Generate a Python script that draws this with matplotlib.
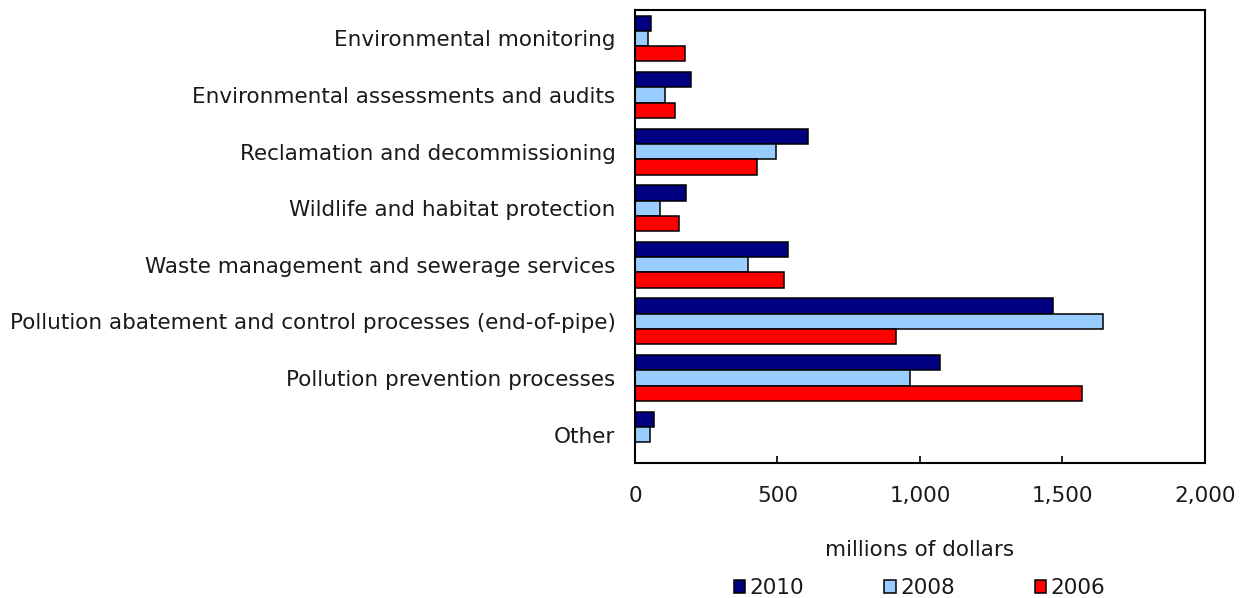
import matplotlib
matplotlib.use("Agg")
import matplotlib.pyplot as plt
import numpy as np

categories = [
    "Environmental monitoring",
    "Environmental assessments and audits",
    "Reclamation and decommissioning",
    "Wildlife and habitat protection",
    "Waste management and sewerage services",
    "Pollution abatement and control processes (end-of-pipe)",
    "Pollution prevention processes",
    "Other",
]
series_names = ["2010", "2008", "2006"]
v2010 = [55, 198, 606, 180, 537, 1465, 1071, 65]
v2008 = [44, 105, 494, 89, 395, 1641, 966, 51]
v2006 = [175, 142, 427, 156, 524, 917, 1568, 0]
colors = ["#000080", "#99CCFF", "#FF0000"]
xticks = [0, 500, 1000, 1500, 2000]
xticklabels = ["0", "500", "1,000", "1,500", "2,000"]

plt.rcParams['font.family'] = ['DejaVu Sans']
FS = 15.5
fig = plt.figure(figsize=(12.51, 5.98), dpi=100)
ax = fig.add_axes([0.5076, 0.226, 0.4556, 0.757])

y = np.arange(len(categories))
h = 0.27
for i, (vals, name, c) in enumerate(zip([v2010, v2008, v2006], series_names, colors)):
    ax.barh(y + (i - 1) * h, vals, height=h, color=c, edgecolor="black",
            linewidth=1.1, label=name)

ax.set_ylim(len(categories) - 0.5, -0.5)
ax.set_xlim(0, 2000)
ax.set_yticks(y)
ax.set_yticklabels(categories, fontsize=FS, color="#1a1a1a")
ax.set_xticks(xticks)
ax.set_xticklabels(xticklabels, fontsize=FS, color="#1a1a1a")
ax.tick_params(axis="y", length=0, pad=14)
ax.tick_params(axis="x", direction="in", length=5, width=1.2, pad=17)
for s in ax.spines.values():
    s.set_linewidth(1.5)
ax.set_xlabel("millions of dollars", fontsize=FS, labelpad=24, color="#1a1a1a")

handles, labels = ax.get_legend_handles_labels()
leg = fig.legend(handles, labels, loc="lower center", bbox_to_anchor=(0.735, -0.032),
           ncol=3, frameon=False, fontsize=FS, handlelength=0.55,
           handleheight=0.55, handletextpad=0.2, columnspacing=3.7)
for t in leg.get_texts():
    t.set_color("#1a1a1a")

fig.savefig("out.png", dpi=100)
